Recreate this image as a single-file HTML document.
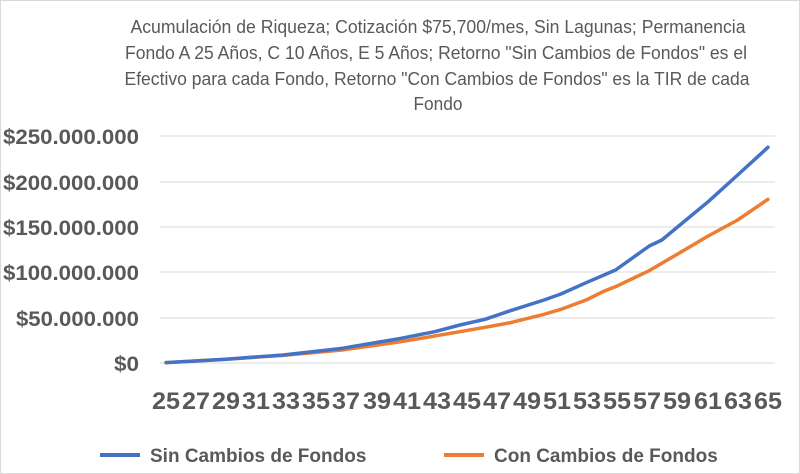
<!DOCTYPE html>
<html><head><meta charset="utf-8"><style>
body{margin:0;background:#fff;}
svg{display:block;font-family:"Liberation Sans",sans-serif;}
</style></head><body>
<svg width="800" height="474" viewBox="0 0 800 474">
<rect x="0.5" y="0.5" width="799" height="473" fill="#fff" stroke="#d9d9d9"/>
<g fill="#595959" font-size="18" text-anchor="middle">
<text x="438" y="33" textLength="615" lengthAdjust="spacingAndGlyphs">Acumulación de Riqueza; Cotización $75,700/mes, Sin Lagunas; Permanencia</text>
<text x="436" y="59" textLength="622" lengthAdjust="spacingAndGlyphs">Fondo A 25 Años, C 10 Años, E 5 Años; Retorno "Sin Cambios de Fondos" es el</text>
<text x="437" y="85" textLength="625" lengthAdjust="spacingAndGlyphs">Efectivo para cada Fondo, Retorno "Con Cambios de Fondos" es la TIR de cada</text>
<text x="438" y="110" textLength="49" lengthAdjust="spacingAndGlyphs">Fondo</text>
</g>
<g stroke="#d9d9d9" stroke-width="1">
<line x1="160" x2="775" y1="136" y2="136"/>
<line x1="160" x2="775" y1="182" y2="182"/>
<line x1="160" x2="775" y1="227" y2="227"/>
<line x1="160" x2="775" y1="272" y2="272"/>
<line x1="160" x2="775" y1="318" y2="318"/>
<line x1="160" x2="775" y1="363" y2="363"/>
</g>
<g fill="#595959" font-size="21" font-weight="bold" text-anchor="end">
<text x="139" y="144" textLength="136" lengthAdjust="spacingAndGlyphs">$250.000.000</text>
<text x="139" y="190" textLength="136" lengthAdjust="spacingAndGlyphs">$200.000.000</text>
<text x="139" y="235" textLength="136" lengthAdjust="spacingAndGlyphs">$150.000.000</text>
<text x="139" y="280" textLength="136" lengthAdjust="spacingAndGlyphs">$100.000.000</text>
<text x="139" y="326" textLength="123" lengthAdjust="spacingAndGlyphs">$50.000.000</text>
<text x="139" y="371" textLength="25" lengthAdjust="spacingAndGlyphs">$0</text>
</g>
<g fill="#595959" font-size="24" font-weight="bold" text-anchor="middle">
<text x="166" y="409" textLength="28" lengthAdjust="spacingAndGlyphs">25</text><text x="196" y="409" textLength="28" lengthAdjust="spacingAndGlyphs">27</text><text x="226" y="409" textLength="28" lengthAdjust="spacingAndGlyphs">29</text><text x="256" y="409" textLength="28" lengthAdjust="spacingAndGlyphs">31</text>
<text x="286" y="409" textLength="28" lengthAdjust="spacingAndGlyphs">33</text><text x="316" y="409" textLength="28" lengthAdjust="spacingAndGlyphs">35</text><text x="346" y="409" textLength="28" lengthAdjust="spacingAndGlyphs">37</text><text x="377" y="409" textLength="28" lengthAdjust="spacingAndGlyphs">39</text>
<text x="407" y="409" textLength="28" lengthAdjust="spacingAndGlyphs">41</text><text x="437" y="409" textLength="28" lengthAdjust="spacingAndGlyphs">43</text><text x="467" y="409" textLength="28" lengthAdjust="spacingAndGlyphs">45</text><text x="497" y="409" textLength="28" lengthAdjust="spacingAndGlyphs">47</text>
<text x="527" y="409" textLength="28" lengthAdjust="spacingAndGlyphs">49</text><text x="557" y="409" textLength="28" lengthAdjust="spacingAndGlyphs">51</text><text x="587" y="409" textLength="28" lengthAdjust="spacingAndGlyphs">53</text><text x="617" y="409" textLength="28" lengthAdjust="spacingAndGlyphs">55</text>
<text x="647" y="409" textLength="28" lengthAdjust="spacingAndGlyphs">57</text><text x="677" y="409" textLength="28" lengthAdjust="spacingAndGlyphs">59</text><text x="708" y="409" textLength="28" lengthAdjust="spacingAndGlyphs">61</text><text x="738" y="409" textLength="28" lengthAdjust="spacingAndGlyphs">63</text>
<text x="768" y="409" textLength="28" lengthAdjust="spacingAndGlyphs">65</text>
</g>
<g transform="translate(140,120) scale(0.42088,0.33333)" fill="none" stroke-linejoin="round" stroke-linecap="round">
<polyline vector-effect="non-scaling-stroke" stroke="#ed7d31" stroke-width="3.5" points="62,728 200,718 340,706 480,690 620,665 700,648 760,635 820,622 880,608 960,583 1000,568 1060,540 1100,515 1130,500 1210,452 1280,400 1350,348 1420,300 1492,238"/>
<polyline vector-effect="non-scaling-stroke" stroke="#4472c4" stroke-width="3.5" points="62,728 200,718 340,705 480,685 620,655 700,635 760,615 820,598 880,572 960,540 1000,522 1060,488 1130,450 1210,378 1240,360 1280,318 1350,245 1420,165 1492,82"/>
</g>
<line x1="100" x2="140" y1="455" y2="455" stroke="#4472c4" stroke-width="4"/>
<text x="150" y="462" font-size="19" font-weight="bold" fill="#595959">Sin Cambios de Fondos</text>
<line x1="444" x2="484" y1="455" y2="455" stroke="#ed7d31" stroke-width="4"/>
<text x="494" y="462" font-size="19" font-weight="bold" fill="#595959">Con Cambios de Fondos</text>
</svg>
</body></html>
